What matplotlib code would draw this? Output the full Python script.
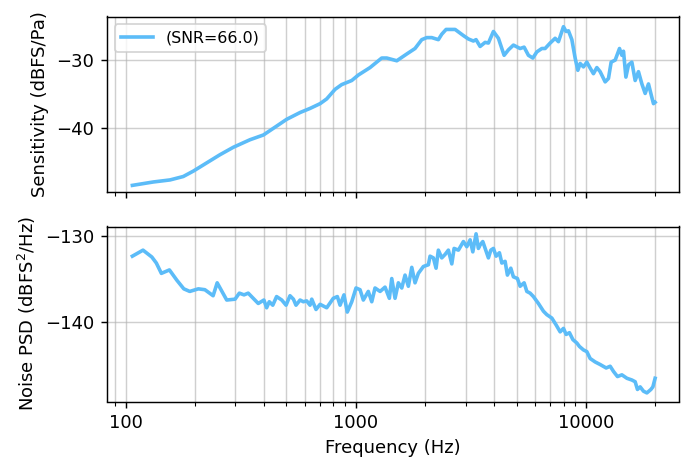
import matplotlib
matplotlib.use("Agg")
import matplotlib.pyplot as plt
from matplotlib.ticker import ScalarFormatter, NullFormatter, MultipleLocator

# Sensitivity curve
f_sens = [107, 132, 156, 178, 197, 225, 257, 294, 347, 397,
          453, 501, 573, 633, 700, 748, 813, 869, 961, 1026,
          1154, 1297, 1364, 1508, 1667, 1810, 1936, 2036, 2140, 2286,
          2365, 2470, 2703, 2937, 3087, 3245, 3334, 3471, 3650, 3772,
          3966, 4169, 4414, 4608, 4844, 5180, 5392, 5630, 5884, 6124,
          6438, 6653, 6996, 7355, 7602, 7993, 8211, 8402, 8694, 8984,
          9231, 9446, 9763, 10100, 10368, 10791, 11162, 11538, 12132, 12540,
          12883, 13413, 14004, 14343, 14576, 14930, 15324, 15849, 16380, 16931,
          17518, 18106, 18715, 19364, 19677, 20000]
sens = [-48.4, -47.9, -47.6, -47.1, -46.3, -45.1, -43.9, -42.8, -41.7, -41.0,
        -39.7, -38.7, -37.7, -37.1, -36.4, -35.7, -34.3, -33.6, -33.0, -32.2,
        -31.1, -29.7, -29.7, -30.1, -29.1, -28.3, -27.0, -26.7, -26.7, -27.0,
        -26.2, -25.5, -25.5, -26.4, -26.9, -27.2, -27.0, -28.0, -27.4, -27.5,
        -25.8, -26.8, -29.3, -28.5, -27.8, -28.3, -28.1, -29.3, -29.7, -28.8,
        -28.3, -28.3, -27.5, -26.8, -27.3, -25.1, -25.8, -25.7, -27.0, -29.7,
        -31.5, -30.5, -31.0, -30.3, -31.0, -32.0, -31.1, -31.7, -33.2, -32.7,
        -30.3, -30.0, -28.3, -29.3, -28.7, -32.5, -30.7, -30.3, -33.0, -31.7,
        -33.5, -34.9, -33.5, -35.5, -36.4, -36.2]

# Noise PSD curve
f_noise = [107, 119, 130, 136, 143, 155, 167, 179, 190, 207,
           221, 240, 250, 275, 299, 312, 327, 341, 377, 399,
           410, 421, 436, 453, 477, 498, 518, 536, 550, 573,
           592, 612, 633, 644, 672, 700, 748, 799, 832, 855,
           889, 919, 961, 1003, 1044, 1079, 1134, 1174, 1213, 1276,
           1341, 1400, 1434, 1482, 1532, 1585, 1638, 1693, 1752, 1810,
           1871, 1968, 2069, 2104, 2175, 2234, 2286, 2365, 2445, 2527,
           2615, 2676, 2794, 2937, 3039, 3141, 3227, 3334, 3412, 3471,
           3566, 3650, 3772, 3864, 3966, 4074, 4211, 4314, 4458, 4562,
           4720, 4844, 5042, 5180, 5392, 5540, 5726, 5918, 6222, 6542,
           6767, 7116, 7429, 7733, 7993, 8211, 8487, 8782, 9140, 9380,
           9763, 10100, 10440, 10975, 11538, 12255, 12757, 13183, 13725, 14343,
           15083, 15849, 16380, 16762, 17223, 17801, 18417, 19170, 19558, 20000]
noise = [-132.4, -131.7, -132.5, -133.2, -134.4, -134.0, -135.2, -136.2, -136.5, -136.2,
         -136.3, -137.0, -135.5, -137.5, -137.4, -136.7, -136.9, -136.7, -137.9, -137.5,
         -138.4, -137.7, -138.1, -137.1, -137.5, -138.1, -137.0, -137.4, -138.1, -137.5,
         -137.7, -137.6, -138.1, -137.4, -138.6, -138.0, -138.4, -137.3, -137.1, -138.1,
         -136.9, -138.9, -137.7, -136.1, -136.3, -137.5, -136.5, -137.7, -136.1, -136.5,
         -136.0, -137.3, -135.0, -137.3, -135.5, -136.1, -134.6, -135.9, -133.7, -135.5,
         -134.4, -133.6, -133.4, -132.4, -132.6, -133.8, -131.7, -132.6, -132.2, -131.7,
         -133.3, -131.5, -131.7, -130.7, -131.3, -130.5, -131.9, -129.8, -131.5, -131.1,
         -130.7, -131.5, -132.6, -131.7, -131.5, -132.4, -132.0, -133.2, -133.0, -134.6,
         -133.8, -134.8, -135.0, -135.9, -135.5, -136.5, -136.7, -137.1, -137.9, -138.8,
         -139.2, -139.6, -140.4, -141.2, -140.8, -141.5, -141.3, -142.1, -142.5, -142.9,
         -143.3, -143.5, -144.3, -144.7, -145.0, -145.4, -145.2, -145.8, -146.4, -146.2,
         -146.6, -146.8, -147.0, -147.9, -147.6, -148.1, -148.3, -147.9, -147.6, -146.6]

legend_label = "(SNR=66.0)"
line_color = "#5cbcf8"

DPI = 130
fig = plt.figure(figsize=(681 / DPI, 461 / DPI), dpi=DPI)
L, W, H = 107 / 681, (679 - 107) / 681, 175 / 461
ax1 = fig.add_axes([L, 1 - 191.5 / 461, W, H])
ax2 = fig.add_axes([L, 1 - 401.5 / 461, W, H], sharex=ax1)

ax1.plot(f_sens, sens, color=line_color, lw=2.0, label=legend_label)
ax2.plot(f_noise, noise, color=line_color, lw=2.0)

for ax in (ax1, ax2):
    ax.set_xscale("log")
    ax.grid(True, which="both", color="#b0b0b0", alpha=0.6, lw=0.8)
    ax.yaxis.set_major_locator(MultipleLocator(10))

ax1.set_xlim(83, 25400)
ax1.set_ylim(-49.3, -23.6)
ax2.set_ylim(-149.3, -128.95)

ax2.xaxis.set_major_formatter(ScalarFormatter())
ax2.xaxis.set_minor_formatter(NullFormatter())
ax1.tick_params(labelbottom=False)

ax1.set_ylabel("Sensitivity (dBFS/Pa)")
ax2.set_ylabel("Noise PSD (dBFS$^2$/Hz)")
ax2.set_xlabel("Frequency (Hz)")
ax1.legend(loc="upper left", fontsize=8.8)

fig.savefig("out.png", dpi=DPI)
